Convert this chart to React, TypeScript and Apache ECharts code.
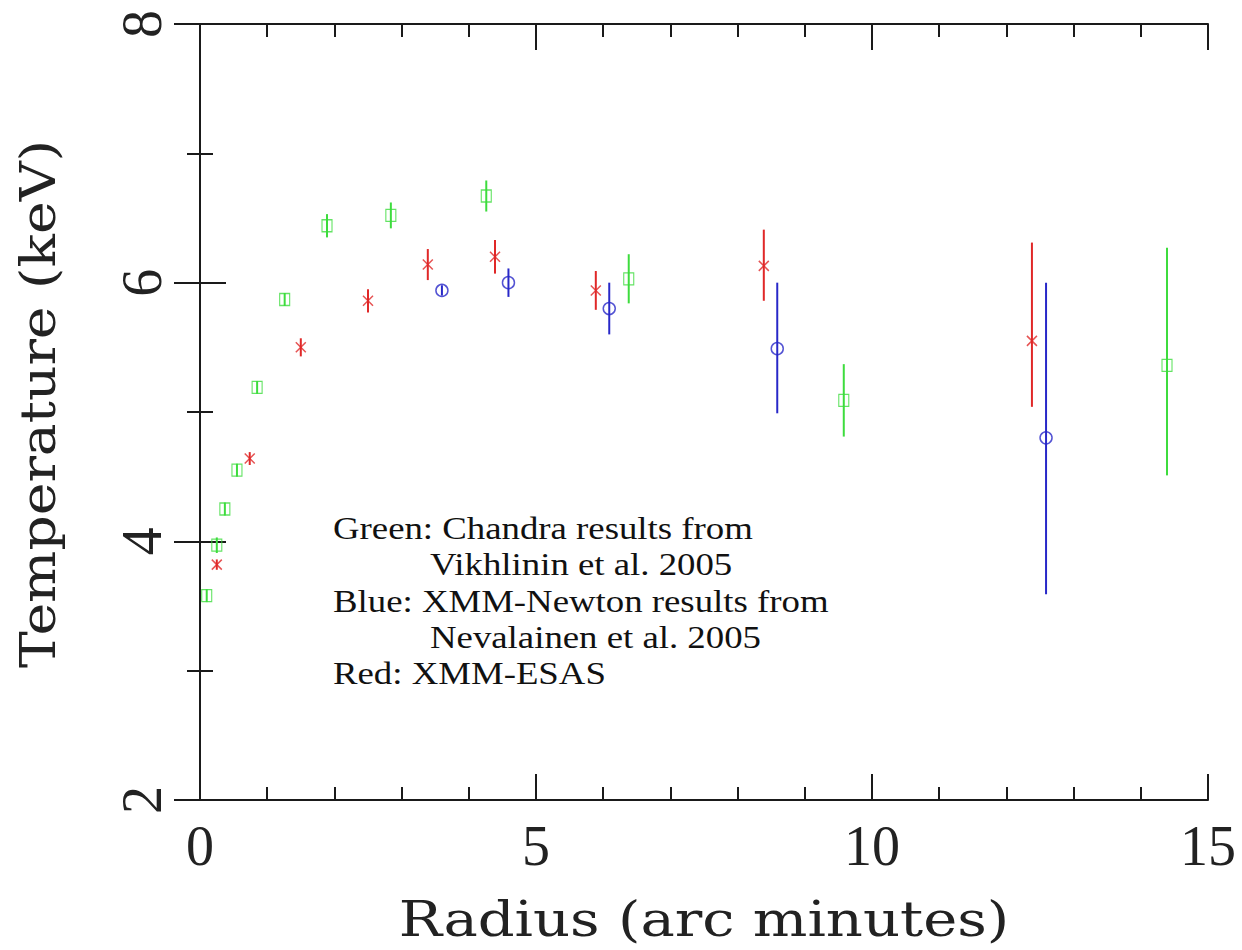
import React, { useEffect, useRef } from "react";
import * as echarts from "echarts";

// [radius, temperature, lower, upper]
const greenData: number[][] = [
  [0.10, 3.58, 3.53, 3.63],
  [0.25, 3.97, 3.91, 4.03],
  [0.37, 4.25, 4.20, 4.30],
  [0.55, 4.55, 4.50, 4.60],
  [0.85, 5.19, 5.14, 5.24],
  [1.26, 5.87, 5.82, 5.92],
  [1.89, 6.44, 6.35, 6.53],
  [2.84, 6.52, 6.42, 6.62],
  [4.26, 6.67, 6.55, 6.79],
  [6.38, 6.03, 5.84, 6.22],
  [9.58, 5.09, 4.81, 5.37],
  [14.39, 5.36, 4.51, 6.27],
];
const redData: number[][] = [
  [0.25, 3.82, 3.78, 3.86],
  [0.74, 4.64, 4.59, 4.69],
  [1.50, 5.50, 5.43, 5.57],
  [2.50, 5.86, 5.77, 5.95],
  [3.39, 6.14, 6.02, 6.26],
  [4.39, 6.20, 6.07, 6.33],
  [5.89, 5.94, 5.79, 6.09],
  [8.39, 6.13, 5.86, 6.41],
  [12.38, 5.55, 5.04, 6.31],
];
const blueData: number[][] = [
  [3.60, 5.94, 5.90, 5.98],
  [4.59, 6.00, 5.89, 6.11],
  [6.09, 5.80, 5.60, 6.00],
  [8.59, 5.49, 4.99, 6.00],
  [12.59, 4.80, 3.59, 6.00],
];

const legendLines = [
  { text: "Green: Chandra results from", indent: false },
  { text: "Vikhlinin et al. 2005", indent: true },
  { text: "Blue: XMM-Newton results from", indent: false },
  { text: "Nevalainen et al. 2005", indent: true },
  { text: "Red: XMM-ESAS", indent: false },
];

const xTitle = "Radius (arc minutes)";
const yTitle = "Temperature (keV)";

const GREEN = "#3ddc3d";
const RED = "#e02828";
const BLUE = "#2828c8";

function errorSeries(data: number[][], color: string) {
  return {
    type: "custom",
    xAxisIndex: 0,
    yAxisIndex: 0,
    data,
    encode: { x: 0, y: [2, 3] },
    z: 2,
    renderItem: (params: any, api: any) => {
      const x = api.value(0);
      const p1 = api.coord([x, api.value(2)]);
      const p2 = api.coord([x, api.value(3)]);
      return {
        type: "line",
        shape: { x1: p1[0], y1: p1[1], x2: p2[0], y2: p2[1] },
        style: { stroke: color, lineWidth: 2 },
      };
    },
  };
}

export default function App() {
  const ref = useRef<HTMLDivElement>(null);
  useEffect(() => {
    if (!ref.current) return;
    const chart = echarts.init(ref.current, null, { renderer: "svg" });
    const axisLine = { show: true, lineStyle: { color: "#1a1a1a", width: 2 } };
    const tickStyle = { color: "#1a1a1a", width: 2 };
    const tickLabelFont = { fontFamily: "Liberation Serif", fontSize: 56, color: "#222" };
    const option: any = {
      animation: false,
      backgroundColor: "#fff",
      grid: { left: 200, right: 34, top: 24, bottom: 150 },
      xAxis: [
        {
          type: "value", min: 0, max: 15, interval: 5, position: "bottom",
          axisLine, splitLine: { show: false },
          axisTick: { inside: true, length: 26, lineStyle: tickStyle },
          minorTick: { show: true, splitNumber: 5, length: 13, lineStyle: tickStyle },
          axisLabel: { ...tickLabelFont, margin: 18 },
        },
        {
          type: "value", min: 0, max: 15, interval: 5, position: "top",
          axisLine, splitLine: { show: false },
          axisTick: { inside: true, length: 26, lineStyle: tickStyle },
          minorTick: { show: true, splitNumber: 5, length: 13, lineStyle: tickStyle },
          axisLabel: { show: false },
        },
      ],
      yAxis: [
        {
          type: "value", min: 2, max: 8, interval: 2, position: "left",
          axisLine, splitLine: { show: false },
          axisTick: { inside: true, length: 26, lineStyle: tickStyle },
          minorTick: { show: true, splitNumber: 2, length: 13, lineStyle: tickStyle },
          axisLabel: { ...tickLabelFont, rotate: 90, margin: 30 },
        },
        {
          type: "value", min: 2, max: 8, interval: 2, position: "right",
          axisLine, splitLine: { show: false },
          axisTick: { inside: true, length: 26, lineStyle: tickStyle },
          minorTick: { show: true, splitNumber: 2, length: 13, lineStyle: tickStyle },
          axisLabel: { show: false },
        },
      ],
      series: [
        errorSeries(greenData, GREEN),
        errorSeries(redData, RED),
        errorSeries(blueData, BLUE),
        {
          type: "scatter", data: greenData.map((d) => [d[0], d[1]]), z: 3,
          symbol: "rect", symbolSize: [10, 12],
          itemStyle: { color: "rgba(0,0,0,0)", borderColor: GREEN, borderWidth: 1.2 },
        },
        {
          type: "scatter", data: redData.map((d) => [d[0], d[1]]), z: 3,
          symbol: "path://M0 0L10 10M10 0L0 10", symbolSize: 10,
          itemStyle: { color: "none", borderColor: RED, borderWidth: 1.5 },
        },
        {
          type: "scatter", data: blueData.map((d) => [d[0], d[1]]), z: 3,
          symbol: "circle", symbolSize: 12,
          itemStyle: { color: "rgba(0,0,0,0)", borderColor: BLUE, borderWidth: 1.5 },
        },
      ],
      graphic: [
        {
          type: "text", x: 704, y: 920, scaleX: 1.2,
          style: { text: xTitle, fontFamily: "DejaVu Serif", fontSize: 48, fill: "#222", textAlign: "center", textVerticalAlign: "middle" },
        },
        {
          type: "text", x: 38, y: 404, rotation: Math.PI / 2, scaleX: 1.15,
          style: { text: yTitle, fontFamily: "DejaVu Serif", fontSize: 48, fill: "#222", textAlign: "center", textVerticalAlign: "middle" },
        },
        ...legendLines.map((l, i) => ({
          type: "text",
          x: l.indent ? 430 : 333,
          y: 528 + i * 36.2,
          scaleX: 1.15,
          style: { text: l.text, fontFamily: "Liberation Serif", fontSize: 32, fill: "#111", textAlign: "left", textVerticalAlign: "middle" },
        })),
      ],
    };
    chart.setOption(option);
    return () => chart.dispose();
  }, []);
  return <div ref={ref} style={{ position: "fixed", left: 0, top: 0, width: 1242, height: 950 }} />;
}
